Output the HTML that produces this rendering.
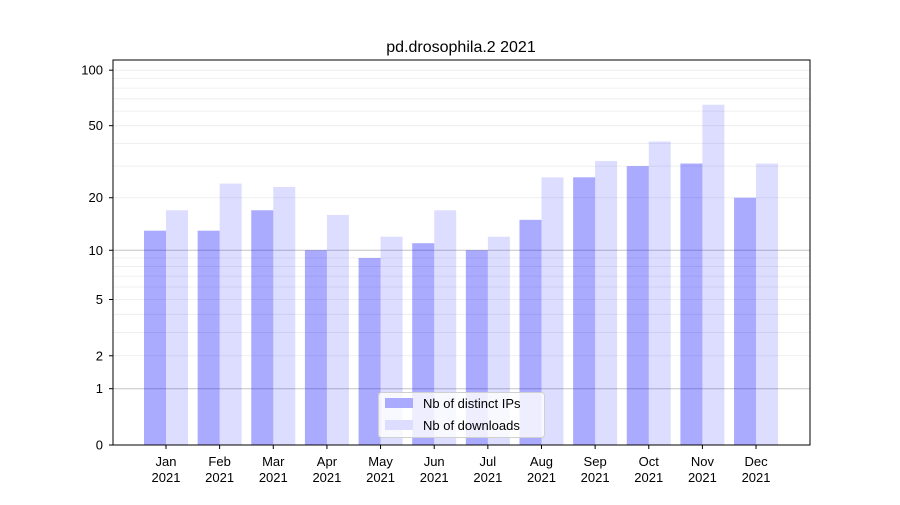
<!DOCTYPE html>
<html><head><meta charset="utf-8"><style>
body{margin:0;background:#fff}
svg text{font-family:"Liberation Sans","DejaVu Sans",sans-serif;fill:#000}
</style></head><body>
<svg id="s" width="900" height="500" xmlns="http://www.w3.org/2000/svg"></svg>
<script>
var s=document.getElementById('s');var h='';
function Y(v){return 445-187*Math.log10(1+v);}
var minors=[2,3,4,5,6,7,8,9,20,30,40,50,60,70,80,90,100];
minors.forEach(function(v){var y=Y(v);if(y>60)h+='<line x1="113" x2="810" y1="'+y+'" y2="'+y+'" stroke="#ebebeb" stroke-width="0.8"/>';});
[1,10].forEach(function(v){var y=Y(v);h+='<line x1="113" x2="810" y1="'+y+'" y2="'+y+'" stroke="#c4c4c4" stroke-width="1"/>';});
var ip=[13,13,17,10,9,11,10,15,26,30,31,20],dl=[17,24,23,16,12,17,12,26,32,41,65,31];
var m=['Jan','Feb','Mar','Apr','May','Jun','Jul','Aug','Sep','Oct','Nov','Dec'];
for(var i=0;i<12;i++){var c=166+i*53.64;
var y1=Y(ip[i]),y2=Y(dl[i]);
h+='<rect x="'+(c-22)+'" y="'+y1+'" width="22" height="'+(445-y1)+'" fill="#0000ff" fill-opacity="0.333"/>';
h+='<rect x="'+c+'" y="'+y2+'" width="22" height="'+(445-y2)+'" fill="#0000ff" fill-opacity="0.133"/>';
h+='<line x1="'+c+'" x2="'+c+'" y1="445" y2="449" stroke="#000"/>';
h+='<text x="'+c+'" y="466" font-size="13" text-anchor="middle">'+m[i]+'</text>';
h+='<text x="'+c+'" y="482" font-size="13" text-anchor="middle">2021</text>';}
[0,1,2,5,10,20,50,100].forEach(function(v){var y=Y(v);
h+='<line x1="109" x2="113" y1="'+y+'" y2="'+y+'" stroke="#000"/>';
h+='<text x="103" y="'+(y+4.5)+'" font-size="13" text-anchor="end">'+v+'</text>';});
h+='<rect x="113" y="60" width="697" height="385" fill="none" stroke="#000" stroke-width="1"/>';
h+='<text x="461" y="52" font-size="16" text-anchor="middle">pd.drosophila.2 2021</text>';
h+='<rect x="378.5" y="392.5" width="166" height="45" rx="3" fill="#fff" fill-opacity="0.8" stroke="#d0d0d0"/>';
h+='<rect x="385" y="398" width="28" height="10" fill="#aaaaff"/>';
h+='<text x="423" y="408" font-size="13">Nb of distinct IPs</text>';
h+='<rect x="385" y="420" width="28" height="10" fill="#ddddff"/>';
h+='<text x="423" y="430" font-size="13">Nb of downloads</text>';
s.innerHTML=h;
</script>
</body></html>
